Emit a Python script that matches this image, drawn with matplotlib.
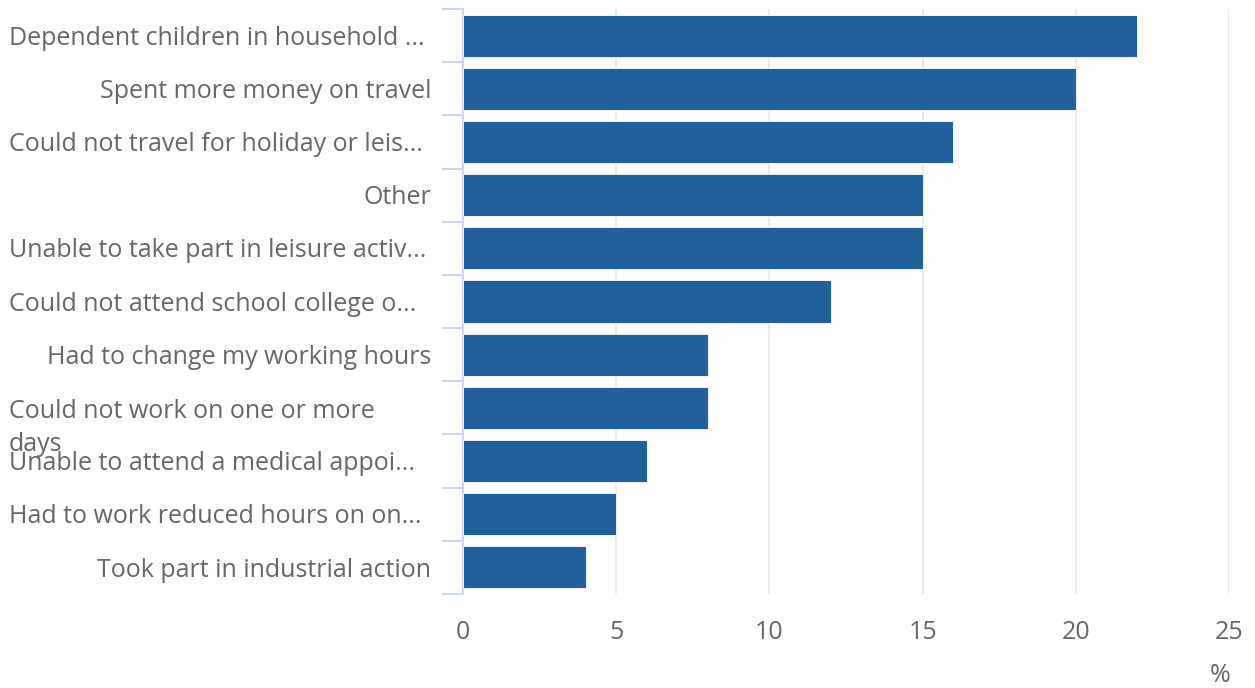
import matplotlib.pyplot as plt
import matplotlib.transforms as mtransforms

plt.rcParams['font.family'] = ['Open Sans', 'DejaVu Sans']

labels = ["Dependent children in household ...",
          "Spent more money on travel",
          "Could not travel for holiday or leis...",
          "Other",
          "Unable to take part in leisure activ...",
          "Could not attend school college o...",
          "Had to change my working hours",
          "Could not work on one or more\ndays",
          "Unable to attend a medical appoi...",
          "Had to work reduced hours on on...",
          "Took part in industrial action"]
# which labels hug the left edge (long/truncated ones) vs sit right-aligned
left_aligned = [True, False, True, False, True, True, False, True, True, True, False]
values = [22, 20, 16, 15, 15, 12, 8, 8, 6, 5, 4]
xticks = [0, 5, 10, 15, 20, 25]

W, H = 1255, 688
FS = 18
fig = plt.figure(figsize=(W / 100, H / 100), dpi=100)
ax = fig.add_axes([463 / W, 1 - 594 / H, (1229 - 463) / W, (594 - 9) / H])

ypos = list(range(len(labels)))
ax.barh(ypos, values, height=0.79, color='#21609a', edgecolor='white',
        linewidth=0.6, zorder=3)

ax.set_xlim(0, 25)
ax.set_ylim(len(labels) - 0.5, -0.5)
ax.set_xticks(xticks)
ax.set_xticklabels([str(t) for t in xticks])
ax.tick_params(axis='x', length=0, pad=19, labelsize=FS, labelcolor='#666666')
ax.grid(axis='x', color='#e6e6e6', linewidth=1.2, zorder=0)

# category boundaries as ticks on the left spine
ax.set_yticks([i - 0.5 for i in range(len(labels) + 1)])
ax.set_yticklabels([])
ax.tick_params(axis='y', length=15, width=1.5, color='#ccd6eb')

for s in ['top', 'right', 'bottom']:
    ax.spines[s].set_visible(False)
ax.spines['left'].set_color('#ccd6eb')
ax.spines['left'].set_linewidth(1.5)

trans = mtransforms.blended_transform_factory(fig.transFigure, ax.transData)
for i, (lab, la) in enumerate(zip(labels, left_aligned)):
    y = i + 0.05
    if '\n' in lab:
        y = i + 0.38
    if la:
        ax.text(9 / W, y, lab, transform=trans, ha='left', va='center',
                fontsize=FS, color='#666666', linespacing=1.4)
    else:
        ax.text(431 / W, y, lab, transform=trans, ha='right', va='center',
                fontsize=FS, color='#666666')

fig.text(1220 / W, 1 - 676 / H, '%', ha='center', va='center',
         fontsize=FS, color='#666666')

fig.savefig('out.png', dpi=100)
